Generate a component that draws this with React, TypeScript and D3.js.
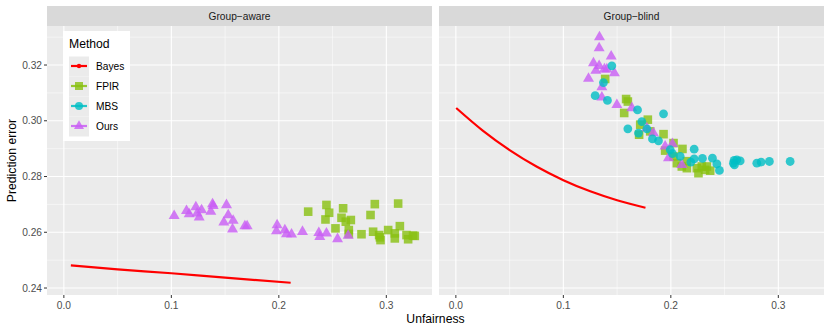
import React from 'react'
import * as d3 from 'd3'

// ---- data ----
const panels = ['Group\u2212aware', 'Group\u2212blind']
const methods = ['Bayes', 'FPIR', 'MBS', 'Ours']
const colors = ['#FF0000', '#88C010', '#00BEC4', '#C95EF5']

const xTicks = [0, 0.1, 0.2, 0.3]
const xMinor = [0.05, 0.15, 0.25]
const yTicks = [0.24, 0.26, 0.28, 0.3, 0.32]
const yMinor = [0.25, 0.27, 0.29, 0.31, 0.33]

// Bayes curves [unfairness, error]
const bayesAware: [number, number][] = [
  [0.0065, 0.2481], [0.05, 0.2467], [0.1, 0.2453], [0.15, 0.2437], [0.211, 0.2419],
]
const bayesBlind: [number, number][] = [
  [0.0003, 0.3046], [0.025, 0.2965], [0.05, 0.2895], [0.075, 0.2836], [0.1, 0.2787],
  [0.125, 0.2747], [0.15, 0.2715], [0.1764, 0.2688],
]

// Group-aware scatter
const oursAware: [number, number][] = [
  [0.1026, 0.2659], [0.1141, 0.2677], [0.1166, 0.2665], [0.1228, 0.269], [0.124, 0.2668],
  [0.1259, 0.2654], [0.1281, 0.268], [0.1367, 0.2674], [0.1389, 0.2695], [0.1383, 0.2701],
  [0.1513, 0.2698], [0.1529, 0.2662], [0.1488, 0.2636], [0.1575, 0.2642], [0.1569, 0.2611],
  [0.1684, 0.2622], [0.1705, 0.2622], [0.1984, 0.2626], [0.1978, 0.2604], [0.2056, 0.2608],
  [0.2071, 0.2594], [0.2118, 0.2593], [0.222, 0.2602], [0.2372, 0.2598], [0.2381, 0.2584],
  [0.2443, 0.2596], [0.2546, 0.2576], [0.2645, 0.2588],
]
const fpirAware: [number, number][] = [
  [0.2273, 0.2674], [0.2443, 0.2698], [0.2468, 0.267], [0.2434, 0.2646], [0.2598, 0.2686],
  [0.2583, 0.2652], [0.2623, 0.2638], [0.267, 0.2644], [0.2527, 0.2614], [0.2651, 0.2608],
  [0.2651, 0.2594], [0.2769, 0.2593], [0.2853, 0.2662], [0.2893, 0.2701], [0.2877, 0.2602],
  [0.2933, 0.259], [0.2946, 0.2572], [0.3017, 0.2608], [0.3079, 0.2596], [0.3079, 0.2578],
  [0.311, 0.2703], [0.3126, 0.2622], [0.3188, 0.259], [0.3203, 0.2575], [0.3249, 0.2588],
  [0.3265, 0.2587], [0.294, 0.2582],
]

// Group-blind scatter
const oursBlind: [number, number][] = [
  [0.1336, 0.33], [0.1333, 0.3261], [0.1445, 0.3231], [0.128, 0.3207], [0.1333, 0.3197],
  [0.1302, 0.318], [0.1382, 0.3185], [0.1475, 0.3171], [0.1234, 0.3151], [0.1358, 0.3121],
  [0.1358, 0.3084], [0.1498, 0.3057], [0.1637, 0.3046], [0.1777, 0.2974], [0.1838, 0.2956],
  [0.1947, 0.2908], [0.1978, 0.2866], [0.2102, 0.2842], [0.2015, 0.2917], [0.1405, 0.3185],
]
const fpirBlind: [number, number][] = [
  [0.1389, 0.315], [0.1584, 0.3078], [0.16, 0.3069], [0.1566, 0.3028], [0.1786, 0.3004],
  [0.1715, 0.2986], [0.1705, 0.295], [0.1808, 0.2962], [0.1932, 0.2952], [0.2025, 0.292],
  [0.1947, 0.2893], [0.2108, 0.2899], [0.2056, 0.2848], [0.2149, 0.2855], [0.2102, 0.2836],
  [0.2149, 0.283], [0.2242, 0.283], [0.2257, 0.2812], [0.2319, 0.2824], [0.2366, 0.2821],
  [0.2288, 0.2836], [0.2025, 0.2872], [0.2335, 0.2836],
]
const mbsBlind: [number, number][] = [
  [0.1451, 0.3197], [0.1373, 0.3137], [0.1296, 0.309], [0.141, 0.3073], [0.169, 0.3039],
  [0.1932, 0.3025], [0.173, 0.2997], [0.16, 0.2971], [0.1777, 0.2971], [0.1699, 0.2956],
  [0.1829, 0.2935], [0.1885, 0.2928], [0.1994, 0.2896], [0.2015, 0.2882], [0.2087, 0.2872],
  [0.2217, 0.2898], [0.2186, 0.2852], [0.2217, 0.2863], [0.2294, 0.2865], [0.2387, 0.2866],
  [0.2428, 0.2845], [0.2452, 0.2822], [0.2582, 0.2848], [0.2589, 0.2858], [0.2614, 0.286],
  [0.2645, 0.2856], [0.2592, 0.2842], [0.28, 0.2848], [0.284, 0.2852], [0.2917, 0.2854],
  [0.311, 0.2854],
]

const panelData = [
  { bayes: bayesAware, fpir: fpirAware, mbs: [] as [number, number][], ours: oursAware },
  { bayes: bayesBlind, fpir: fpirBlind, mbs: mbsBlind, ours: oursBlind },
]

// ---- layout ----
const W = 830
const H = 332
const panelW = 385
const panelLeft = [47, 439]
const top = 26
const bottom = 295
const stripTop = 6
const font = 'Liberation Sans, Arial, sans-serif'
const small = 10.2
const big = 12.2
const alpha = 0.8

const x = d3.scaleLinear().domain([-0.0157, 0.3425]).range([0, panelW])
const y = d3.scaleLinear().domain([0.2375, 0.334]).range([bottom, top])

function tri(cx: number, cy: number, s: number) {
  const h = s * Math.sqrt(3) / 2
  return `M${cx},${cy - (2 * h) / 3}L${cx + s / 2},${cy + h / 3}L${cx - s / 2},${cy + h / 3}Z`
}

function Panel({ i }: { i: number }) {
  const d = panelData[i]
  const line = d3.line<[number, number]>()
    .x(p => x(p[0]))
    .y(p => y(p[1]))
    .curve(d3.curveMonotoneX)
  return (
    <g transform={`translate(${panelLeft[i]},0)`}>
      <rect x={0} y={stripTop} width={panelW} height={top - stripTop} fill="#D9D9D9" />
      <text x={panelW / 2} y={(stripTop + top) / 2 + 3.6} textAnchor="middle" fontSize={small} fill="#1A1A1A">
        {panels[i]}
      </text>
      <rect x={0} y={top} width={panelW} height={bottom - top} fill="#EBEBEB" />
      {xMinor.map(t => (
        <line key={'xm' + t} x1={x(t)} x2={x(t)} y1={top} y2={bottom} stroke="#fff" strokeWidth={0.5} />
      ))}
      {yMinor.map(t => (
        <line key={'ym' + t} x1={0} x2={panelW} y1={y(t)} y2={y(t)} stroke="#fff" strokeWidth={0.5} />
      ))}
      {xTicks.map(t => (
        <line key={'x' + t} x1={x(t)} x2={x(t)} y1={top} y2={bottom} stroke="#fff" strokeWidth={1.1} />
      ))}
      {yTicks.map(t => (
        <line key={'y' + t} x1={0} x2={panelW} y1={y(t)} y2={y(t)} stroke="#fff" strokeWidth={1.1} />
      ))}
      {/* x axis ticks + labels */}
      {xTicks.map(t => (
        <g key={'xt' + t}>
          <line x1={x(t)} x2={x(t)} y1={bottom} y2={bottom + 3} stroke="#333" strokeWidth={1} />
          <text x={x(t)} y={bottom + 13.8} textAnchor="middle" fontSize={small} fill="#4D4D4D">
            {d3.format('.1f')(t)}
          </text>
        </g>
      ))}
      <path d={line(d.bayes) || ''} fill="none" stroke={colors[0]} strokeWidth={2.2} />
      {d.fpir.map((p, k) => (
        <rect key={'f' + k} x={x(p[0]) - 4.3} y={y(p[1]) - 4.3} width={8.6} height={8.6}
          fill={colors[1]} fillOpacity={alpha} />
      ))}
      {d.ours.map((p, k) => (
        <path key={'o' + k} d={tri(x(p[0]), y(p[1]), 11)} fill={colors[3]} fillOpacity={alpha} />
      ))}
      {d.mbs.map((p, k) => (
        <circle key={'m' + k} cx={x(p[0])} cy={y(p[1])} r={4.4} fill={colors[2]} fillOpacity={alpha} />
      ))}
    </g>
  )
}

function Legend() {
  const lx = 63
  const ly = 31
  const keyX = 69
  const keyY = 56.5
  const keyH = 20
  return (
    <g>
      <rect x={lx} y={ly} width={67} height={110} fill="#fff" />
      <text x={keyX} y={ly + 17} fontSize={big} fill="#000">Method</text>
      {methods.map((m, k) => {
        const cy = keyY + k * keyH + keyH / 2 - 0.5
        const cx = keyX + 10
        return (
          <g key={m}>
            <rect x={keyX} y={keyY + k * keyH} width={20} height={keyH} fill="#EBEBEB" />
            <line x1={keyX + 2} x2={keyX + 18} y1={cy} y2={cy}
              stroke={colors[k]} strokeWidth={2.2} strokeOpacity={k === 0 ? 1 : 0.85} />
            {k === 0 && <circle cx={cx} cy={cy} r={2.2} fill={colors[0]} />}
            {k === 1 && <rect x={cx - 4} y={cy - 4} width={8} height={8} fill={colors[1]} fillOpacity={alpha} />}
            {k === 2 && <circle cx={cx} cy={cy} r={4} fill={colors[2]} fillOpacity={alpha} />}
            {k === 3 && <path d={tri(cx, cy, 10)} fill={colors[3]} fillOpacity={alpha} />}
            <text x={96} y={cy + 3.6} fontSize={small} fill="#000">{m}</text>
          </g>
        )
      })}
    </g>
  )
}

export default function App() {
  return (
    <svg width={W} height={H} style={{ position: 'absolute', left: 0, top: 0 }} fontFamily={font}>
      <rect width={W} height={H} fill="#fff" />
      {[0, 1].map(i => <Panel key={i} i={i} />)}
      {/* y axis on left panel */}
      {yTicks.map(t => (
        <g key={'yt' + t}>
          <line x1={panelLeft[0] - 3} x2={panelLeft[0]} y1={y(t)} y2={y(t)} stroke="#333" strokeWidth={1} />
          <text x={panelLeft[0] - 5} y={y(t) + 3.6} textAnchor="end" fontSize={small} fill="#4D4D4D">
            {d3.format('.2f')(t)}
          </text>
        </g>
      ))}
      <text x={(panelLeft[0] + panelLeft[1] + panelW) / 2} y={323} textAnchor="middle" fontSize={big} fill="#000">
        Unfairness
      </text>
      <text transform={`translate(16,${(top + bottom) / 2}) rotate(-90)`} textAnchor="middle" fontSize={big} fill="#000">
        Prediction error
      </text>
      <Legend />
    </svg>
  )
}
